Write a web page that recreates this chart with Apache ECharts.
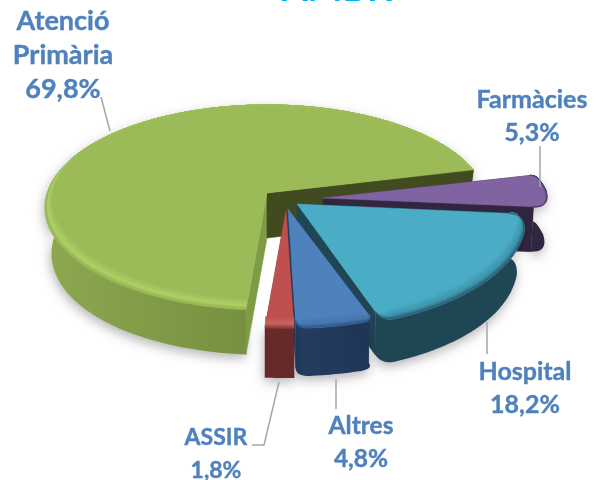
<!DOCTYPE html>
<html><head><meta charset="utf-8">
<style>html,body{margin:0;padding:0;background:#fff}#c{width:603px;height:480px}</style>
<script src="https://cdn.jsdelivr.net/npm/echarts@6/dist/echarts.min.js"></script>
</head><body><div id="c"></div>
<script>
const categories = ['Atenció\nPrimària', 'Farmàcies', 'Hospital', 'Altres', 'ASSIR'];
const values = [69.8, 5.3, 18.2, 4.8, 1.8];
const titleText = 'ÀMBIT';

// --- pie projection and styling (not data) ---
const startAngle = 94.7, centre = [267, 193], A = 219.8, B = 100.5, K = 0.1415;
const explode = [[0,0],[56,5],[30,11],[21,16],[19,18]];
const stretch = [[1,1],[1.03,1],[1.03,1.07],[1.03,1.02],[1,1]];
const cornerStart = [0,18,12,8,0];
const cornerEnd = [0,6,16,8,0];
const depth = [45,45,43,48,50];
const baseShrink = [0.03,0.012,0.035,0,0];
const palette = [
  {top:'#9bbb59',hi:'#aed266',rim:'#93b152',wallL:'#8ca850',wallR:'#5c772c',cutA:'#7e9b45',cutB:'#424a20',bev:1},
  {top:'#8064a2',hi:'#6f5690',rim:'#4a3a60',wallL:'#312640',wallR:'#312640',cutA:'#312640',cutB:'#312640',bev:.7},
  {top:'#4bacc6',hi:'#3d94ac',rim:'#27596a',wallL:'#1f4653',wallR:'#1f4653',cutA:'#1f4653',cutB:'#1f4653',bev:1},
  {top:'#4f81bd',hi:'#4676ae',rim:'#2f5486',wallL:'#233c60',wallR:'#203658',cutA:'#203658',cutB:'#233c60',bev:1},
  {top:'#c0504d',hi:'#c86764',rim:'#8a3b39',wallL:'#662a29',wallR:'#662a29',cutA:'#662a29',cutB:'#662a29',bev:1}
];
const labelStyle = [
  {at:[63,55],size:27,leader:[[101,97],[110,131]]},
  {at:[532,116],size:25,leader:[[540,146],[540,187]]},
  {at:[525,388],size:25,leader:[[487,322],[487,354]]},
  {at:[361,443],size:24.5,leader:[[336,379],[336,409]]},
  {at:[216,454],size:23,leader:[[279,382],[264,445],[252,445]]}
];
const labelColor = '#4f81bd', leaderColor = '#a6a6a6', font = 'Lato';

const total = values.reduce((a,b)=>a+b,0);
function hex(c){return [1,3,5].map(i=>parseInt(c.substr(i,2),16));}
function mix(a,b,t){const x=hex(a),y=hex(b);return 'rgb('+x.map((v,i)=>Math.round(v+(y[i]-v)*t)).join(',')+')';}
function project(deg){
  const r=deg*Math.PI/180,u=Math.cos(r),v=Math.sin(r),w=1-K*v;
  return {x:A*u/w,y:B*v/w,u:u,v:v,g:1};
}
function ramp(c,t){return t<.65?mix(c.top,c.hi,t/.65):mix(c.hi,c.rim,(t-.65)/.35);}
// round an arc end where it meets the straight cut edge
function roundStart(arc,ox,oy,R){
  if(!R) return arc;
  const p0=arc[0],dx=ox-p0.x,dy=oy-p0.y,len=Math.hypot(dx,dy);
  const E={x:p0.x+dx/len*R,y:p0.y+dy/len*R};
  let m=1;
  while(m<arc.length-1&&Math.hypot(arc[m].x-p0.x,arc[m].y-p0.y)<R) m++;
  const Q=arc[m],out=[];
  for(let k=0;k<8;k++){
    const t=k/8,a=(1-t)*(1-t),b=2*t*(1-t),c=t*t;
    out.push({x:a*E.x+b*p0.x+c*Q.x,y:a*E.y+b*p0.y+c*Q.y,u:Q.u,v:Q.v,g:t});
  }
  return out.concat(arc.slice(m));
}

function renderItem(params, api){
  const i = params.dataIndex;
  let before = 0; for(let j=0;j<i;j++) before += values[j];
  const a0 = startAngle + before/total*360, a1 = a0 + api.value(0)/total*360;
  const ox = centre[0]+explode[i][0], oy = centre[1]+explode[i][1], d = depth[i], c = palette[i];
  const n = Math.max(8,Math.ceil((a1-a0)/1.5));
  let arc = [];
  for(let k=0;k<=n;k++){
    const p=project(a0+(a1-a0)*k/n);
    arc.push({x:ox+p.x*stretch[i][0],y:oy+p.y*stretch[i][1],u:p.u,v:p.v,g:1});
  }
  arc = roundStart(arc,ox,oy,cornerEnd[i]);
  arc = roundStart(arc.slice().reverse(),ox,oy,cornerStart[i]).reverse();
  const pts = arc.map(p=>[p.x,p.y]);
  const first = pts[0], last = pts[pts.length-1];
  const ch = [];
  const poly=(points,fill,extra)=>ch.push({type:'polygon',shape:{points:points},
    style:Object.assign({fill:fill,stroke:typeof fill==='string'?fill:null,lineWidth:typeof fill==='string'?.5:0},extra||{})});
  const down=(p)=>{const dx=p.x-ox;return [ox+dx*(1-baseShrink[i]*p.u*p.u),p.y+d];};
  const xs=pts.map(p=>p[0]);
  const xmin=Math.min.apply(null,xs), xmax=Math.max.apply(null,xs);
  // outer wall with soft shadow
  poly(pts.concat(arc.slice().reverse().map(down)),
    {type:'linear',x:xmin,y:0,x2:xmax,y2:0,global:true,colorStops:[{offset:0,color:c.wallL},{offset:1,color:c.wallR}]},
    {shadowBlur:12,shadowColor:'rgba(0,0,0,0.30)',shadowOffsetX:-1,shadowOffsetY:4});
  // cut walls
  poly([[ox,oy],first,down(arc[0]),[ox,oy+d]],c.cutA);
  poly([[ox,oy],last,down(arc[arc.length-1]),[ox,oy+d]],c.cutB);
  // top face
  poly([[ox,oy]].concat(pts),c.top);
  // bevel bands along the rim
  const N=10, bx=8, by=11;
  const clamp=x=>Math.max(0,Math.min(1,x));
  const inset=(p,t)=>{
    const fx=clamp((p.v+.35)/.5)*c.bev*p.g, fy=clamp(p.v/.4)*c.bev*p.g;
    return [p.x-p.u*bx*fx*t,p.y-by*fy*t];
  };
  for(let b=0;b<N;b++){
    const t0=1-b/N,t1=1-(b+1)/N;
    const outer=arc.map(p=>inset(p,t1)),inner=arc.map(p=>inset(p,t0));
    poly(inner.concat(outer.reverse()),ramp(c,(b+.5)/N));
  }
  // leader and label
  const L=labelStyle[i];
  ch.push({type:'polyline',shape:{points:L.leader},style:{fill:null,stroke:leaderColor,lineWidth:1.5}});
  ch.push({type:'text',style:{x:L.at[0],y:L.at[1],
    text:categories[i]+'\n'+String(values[i]).replace('.',',')+'%',
    fill:labelColor,stroke:labelColor,lineWidth:.4,font:'bold '+L.size+'px '+font,align:'center',verticalAlign:'middle',lineHeight:i===0?34:33}});
  return {type:'group',children:ch};
}

const chart = echarts.init(document.getElementById('c'),null,{renderer:'canvas'});
chart.setOption({
  animation:false,
  backgroundColor:'#ffffff',
  title:{text:titleText,left:336,textAlign:'center',top:-34,
    textStyle:{color:'#00b0f0',fontFamily:font,fontWeight:'bold',fontSize:37}},
  tooltip:{show:false},
  series:[{type:'custom',coordinateSystem:'none',silent:true,
    data:values.map(v=>[v]),renderItem:renderItem,clip:false}]
});
</script></body></html>
